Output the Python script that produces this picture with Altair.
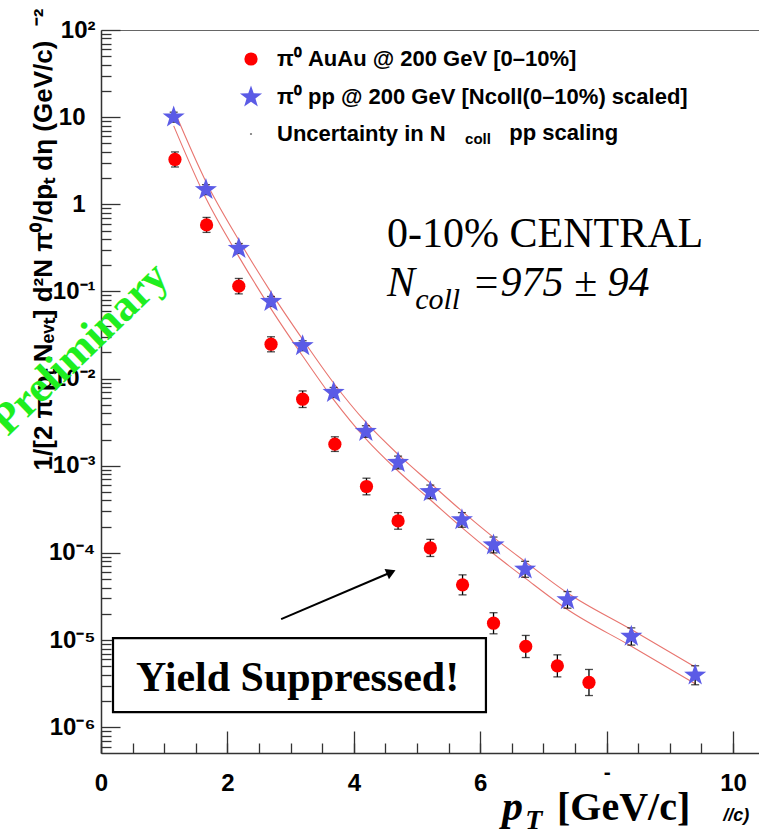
import altair as alt
import pandas as pd

W, H = 658, 723

# ---------------- values ----------------
auau_pt = [1.17, 1.67, 2.18, 2.69, 3.19, 3.70, 4.20, 4.70, 5.21, 5.72, 6.21, 6.72, 7.22, 7.72]
auau_y = [3.27, 0.58, 0.115, 0.0248, 0.0058, 0.00177, 5.78e-4, 2.33e-4, 1.14e-4, 4.3e-5,
          1.56e-5, 8.45e-6, 5.06e-6, 3.26e-6]
auau_lo = [2.68, 0.476, 0.0938, 0.0203, 0.00466, 0.00146, 4.64e-4, 1.87e-4, 9.1e-5, 3.3e-5,
           1.18e-5, 6.3e-6, 3.78e-6, 2.31e-6]
auau_hi = [3.99, 0.707, 0.141, 0.0302, 0.00722, 0.00215, 7.2e-4, 2.9e-4, 1.43e-4, 5.6e-5,
           2.06e-5, 1.13e-5, 6.77e-6, 4.6e-6]

pp_pt = [1.15, 1.66, 2.18, 2.69, 3.19, 3.68, 4.19, 4.70, 5.21, 5.71, 6.21, 6.71, 7.38, 8.39, 9.40]
pp_y = [10.0, 1.47, 0.311, 0.0767, 0.0238, 0.00693, 0.00247, 1.09e-3, 5.02e-4, 2.39e-4,
        1.23e-4, 6.5e-5, 2.89e-5, 1.1e-5, 3.95e-6]
pp_lo = [8.76, 1.29, 0.273, 0.0672, 0.0209, 0.00607, 0.00212, 9.2e-4, 4.2e-4, 1.97e-4,
         1.0e-4, 5.25e-5, 2.32e-5, 8.75e-6, 3.07e-6]
pp_hi = [11.4, 1.68, 0.355, 0.0875, 0.0272, 0.00791, 0.00288, 1.29e-3, 6.0e-4, 2.9e-4,
         1.52e-4, 8.0e-5, 3.6e-5, 1.38e-5, 5.07e-6]

band_pt = [1.15, 1.66, 2.18, 2.69, 3.19, 3.68, 4.19, 4.70, 5.21, 5.71, 6.21, 6.71, 7.38, 8.39, 9.40]
band_upper = [12.3, 1.82, 0.389, 0.0977, 0.0282, 0.00891, 0.00316, 0.00135, 6.31e-4, 3.02e-4,
              1.51e-4, 7.94e-5, 3.47e-5, 1.32e-5, 4.9e-6]
band_lower = [7.94, 1.17, 0.251, 0.0631, 0.0182, 0.00575, 0.00204, 8.71e-4, 4.07e-4, 1.95e-4,
              9.77e-5, 5.13e-5, 2.24e-5, 8.51e-6, 3.16e-6]

STAR = ("M0,-1L0.235,-0.324L0.951,-0.309L0.38,0.124L0.588,0.809L0,0.4L-0.588,0.809"
        "L-0.38,0.124L-0.951,-0.309L-0.235,-0.324Z")

series_names = [
    "π⁰ AuAu @ 200 GeV [0–10%]",
    "π⁰ pp @ 200 GeV [Ncoll(0–10%) scaled]",
    "Uncertainty in N",
]
series_colors = ["#ff0000", "#5b5be6", "#777777"]
series_shapes = ["circle", STAR, "circle"]
series_sizes = [175, 540, 5]

y_major = [1e-6, 1e-5, 1e-4, 1e-3, 1e-2, 1e-1, 1, 10, 100]
y_major_labels = ["10⁻⁶", "10⁻⁵", "10⁻⁴", "10⁻³", "10⁻²", "10⁻¹", "1", "10", "10²"]
y_minor = [m * 10.0 ** e for e in range(-7, 2) for m in range(2, 10) if 5.06e-7 <= m * 10.0 ** e <= 100]
x_major = [0, 2, 4, 6, 8, 10]
x_minor = [i * 0.5 for i in range(0, 21)]

y_title = "1/[2 π pₜ Nₑᵥₜ] d²N π⁰/dpₜ dη (GeV/c)\u00a0\u00a0⁻²"

# annotation anchors, in data units
box_x = [0.19, 6.09]
box_y = [1.49e-6, 1.05e-5]
box_text = "Yield Suppressed!"
box_text_xy = [3.11, 2.6e-6]
arrow_x = [2.85, 4.59]
arrow_y = [1.74e-5, 6.0e-5]
central_text = "0-10% CENTRAL"
central_xy = [4.525, 0.322]
ncoll_n_xy = [4.525, 0.0883]
ncoll_sub_xy = [4.97, 0.0627]
ncoll_val_xy = [5.87, 0.0883]
prelim_xy = [-0.33, 0.0218]
legend_sub_xy = [5.76, 4.9]
legend_rest_xy = [6.46, 6.55]
legend_rest_text = "pp scaling"
xt_p_xy = [6.345, 8.58e-8]
xt_T_xy = [6.71, 6.76e-8]
xt_unit_xy = [7.215, 8.58e-8]
xt_rest_xy = [10.05, 9.5e-8]

# ---------------- tables ----------------
pts = pd.concat([
    pd.DataFrame({"pt": auau_pt, "y": auau_y, "lo": auau_lo, "hi": auau_hi, "s": series_names[0]}),
    pd.DataFrame({"pt": pp_pt, "y": pp_y, "lo": pp_lo, "hi": pp_hi, "s": series_names[1]}),
], ignore_index=True)
band = pd.concat([
    pd.DataFrame({"pt": band_pt, "y": band_upper, "bound": "upper"}),
    pd.DataFrame({"pt": band_pt, "y": band_lower, "bound": "lower"}),
], ignore_index=True)

xs = alt.Scale(domain=[0, 10.41], nice=False, zero=False)
ys = alt.Scale(type="log", domain=[5.06e-7, 100], nice=False)

SANS = "Liberation Sans"
SERIF = "Liberation Serif"


def chain(values, labels):
    parts = [f"datum.value < {v * 1.5:g} ? '{l}'" for v, l in zip(values[:-1], labels[:-1])]
    return " : ".join(parts) + f" : '{labels[-1]}'"


y_lab_axis = alt.Axis(
    orient="left", values=y_major, labelExpr=chain(y_major, y_major_labels),
    ticks=False, tickSize=0, domain=True, domainColor="#333333", domainWidth=1.5, grid=False,
    labelFont=SANS, labelFontWeight="bold", labelFontSize=24, labelColor="black",
    labelPadding={"condition": {"test": "datum.value > 0.5 && datum.value < 50", "value": 16}, "value": 6},
    labelBaseline="middle", labelAlign="right", labelOverlap=False, labelFlush=False,
    title=y_title, titleFont=SANS, titleFontWeight="bold", titleFontSize=26, titleColor="black",
    titleAngle=270, titleAlign="right", titleBaseline="alphabetic", titleX=-50, titleY=-22,
)
y_major_axis = alt.Axis(orient="right", offset=-W, values=y_major, labels=False, domain=False,
                       ticks=True, tickSize=19, tickColor="#333333", tickWidth=1.3, grid=False, title=None)
y_minor_axis = alt.Axis(orient="right", offset=-W, values=y_minor, labels=False, domain=False,
                       ticks=True, tickSize=10, tickColor="#333333", tickWidth=1.3, grid=False, title=None)
x_lab_axis = alt.Axis(
    orient="bottom", values=x_major, labelExpr="datum.value == 8 ? '-' : datum.label",
    ticks=False, tickSize=0, domain=True, domainColor="#333333", domainWidth=1.5, grid=False,
    labelFont=SANS, labelFontWeight="bold", labelColor="black",
    labelFontSize={"condition": {"test": "datum.value == 8", "value": 21}, "value": 24},
    labelPadding={"condition": {"test": "datum.value == 8", "value": 19}, "value": 30},
    labelBaseline="middle", labelAlign="center", labelOverlap=False, labelFlush=False,
    title=None,
)
x_major_axis = alt.Axis(orient="top", offset=-H, values=x_major, labels=False, domain=False,
                       ticks=True, tickSize=22, tickColor="#333333", tickWidth=1.3, grid=False, title=None)
x_minor_axis = alt.Axis(orient="top", offset=-H, values=x_minor, labels=False, domain=False,
                       ticks=True, tickSize=10, tickColor="#333333", tickWidth=1.3, grid=False, title=None)
x_top_axis = alt.Axis(orient="top", offset=0, labels=False, ticks=False, domain=True,
                     domainColor="#666666", domainWidth=1, grid=False, title=None)

band_layer = alt.Chart(band).mark_line(color="#e8756f", strokeWidth=1.1, interpolate="monotone").encode(
    x=alt.X("pt:Q", scale=xs, axis=x_lab_axis),
    y=alt.Y("y:Q", scale=ys, axis=y_lab_axis),
    detail="bound:N",
)
err_rule = alt.Chart(pts).mark_rule(color="black", strokeWidth=1.3).encode(
    x=alt.X("pt:Q", scale=xs, axis=x_major_axis),
    y=alt.Y("lo:Q", scale=ys, axis=y_major_axis),
    y2="hi:Q",
)
cap_lo = alt.Chart(pts).mark_tick(color="black", orient="horizontal", size=8, thickness=1.3).encode(
    x=alt.X("pt:Q", scale=xs, axis=x_minor_axis),
    y=alt.Y("lo:Q", scale=ys, axis=y_minor_axis),
)
cap_hi = alt.Chart(pts).mark_tick(color="black", orient="horizontal", size=8, thickness=1.3).encode(
    x=alt.X("pt:Q", scale=xs, axis=x_top_axis),
    y=alt.Y("hi:Q", scale=ys, axis=None),
)

leg = alt.Legend(orient="none", legendX=138, legendY=18, title=None, labelFont=SANS,
                 labelFontWeight="bold", labelFontSize=22, labelColor="black", labelLimit=700,
                 labelOffset=14, rowPadding=15, padding=0, symbolOpacity=1, symbolStrokeWidth=0)
points = alt.Chart(pts).mark_point(filled=True, opacity=1).encode(
    x=alt.X("pt:Q", scale=xs, axis=None),
    y=alt.Y("y:Q", scale=ys, axis=None),
    color=alt.Color("s:N", scale=alt.Scale(domain=series_names, range=series_colors), legend=leg),
    shape=alt.Shape("s:N", scale=alt.Scale(domain=series_names, range=series_shapes), legend=leg),
    size=alt.Size("s:N", scale=alt.Scale(type="ordinal", domain=series_names, range=series_sizes), legend=leg),
)


def text_layer(xy, txt, **kw):
    df = pd.DataFrame({"x": [xy[0]], "y": [xy[1]], "t": [txt]})
    return alt.Chart(df).mark_text(**kw).encode(
        x=alt.X("x:Q", scale=xs, axis=None),
        y=alt.Y("y:Q", scale=ys, axis=None),
        text="t:N",
    )


box = alt.Chart(pd.DataFrame({"x": [box_x[0]], "x2": [box_x[1]], "y": [box_y[0]], "y2": [box_y[1]]})).mark_rect(
    fill="white", stroke="black", strokeWidth=2.2).encode(
    x=alt.X("x:Q", scale=xs, axis=None), x2="x2:Q",
    y=alt.Y("y:Q", scale=ys, axis=None), y2="y2:Q",
)
box_lbl = text_layer(box_text_xy, box_text, font=SERIF, fontWeight="bold", fontSize=42,
                     align="center", baseline="alphabetic", color="black")
arrow = alt.Chart(pd.DataFrame({"x": [arrow_x[0]], "x2": [arrow_x[1]], "y": [arrow_y[0]], "y2": [arrow_y[1]]})).mark_rule(
    color="black", strokeWidth=2).encode(
    x=alt.X("x:Q", scale=xs, axis=None), x2="x2:Q",
    y=alt.Y("y:Q", scale=ys, axis=None), y2="y2:Q",
)
arrow_head = alt.Chart(pd.DataFrame({"x": [arrow_x[1]], "y": [arrow_y[1]]})).mark_point(
    shape="triangle-right", filled=True, color="black", opacity=1, size=120, angle=336.5).encode(
    x=alt.X("x:Q", scale=xs, axis=None),
    y=alt.Y("y:Q", scale=ys, axis=None),
)

t_central = text_layer(central_xy, central_text, font=SERIF, fontSize=42, align="left",
                       baseline="alphabetic", color="black")
t_n = text_layer(ncoll_n_xy, "N", font=SERIF, fontStyle="italic", fontSize=42, align="left",
                 baseline="alphabetic", color="black")
t_coll = text_layer(ncoll_sub_xy, "coll", font=SERIF, fontStyle="italic", fontSize=30, align="left",
                    baseline="alphabetic", color="black")
t_val = text_layer(ncoll_val_xy, "=975 ± 94", font=SERIF, fontStyle="italic", fontSize=42, align="left",
                   baseline="alphabetic", color="black")
t_leg_sub = text_layer(legend_sub_xy, "coll", font=SANS, fontWeight="bold", fontSize=15, align="left",
                       baseline="alphabetic", color="black")
t_leg_rest = text_layer(legend_rest_xy, legend_rest_text, font=SANS, fontWeight="bold", fontSize=22,
                        align="left", baseline="middle", color="black")
t_xp = text_layer(xt_p_xy, "p", font=SERIF, fontStyle="italic", fontWeight="bold", fontSize=42,
                  align="left", baseline="alphabetic", color="black")
t_xT = text_layer(xt_T_xy, "T", font=SERIF, fontStyle="italic", fontWeight="bold", fontSize=28,
                  align="left", baseline="alphabetic", color="black")
t_xu = text_layer(xt_unit_xy, "[GeV/c]", font=SERIF, fontWeight="bold", fontSize=40,
                  align="left", baseline="alphabetic", color="black")
t_xr = text_layer(xt_rest_xy, "//c)", font=SANS, fontStyle="italic", fontWeight="bold", fontSize=18,
                  align="center", baseline="middle", color="black")
t_prelim = text_layer(prelim_xy, "Preliminary", font=SERIF, fontWeight="bold", fontSize=44,
                      align="center", baseline="middle", color="#1fee1f", angle=316)

chart = alt.layer(
    band_layer, err_rule, cap_lo, cap_hi, points, box, box_lbl, arrow, arrow_head,
    t_central, t_n, t_coll, t_val, t_leg_sub, t_leg_rest, t_xp, t_xT, t_xu, t_xr, t_prelim,
).resolve_axis(x="independent", y="independent").properties(
    width=W, height=H,
    padding={"left": 101, "top": 30, "right": 0, "bottom": 81},
    autosize=alt.AutoSizeParams(type="none"),
    background="white",
).configure_view(stroke=None)

chart.save("out.html", embed_options={"renderer": "svg", "actions": False})
